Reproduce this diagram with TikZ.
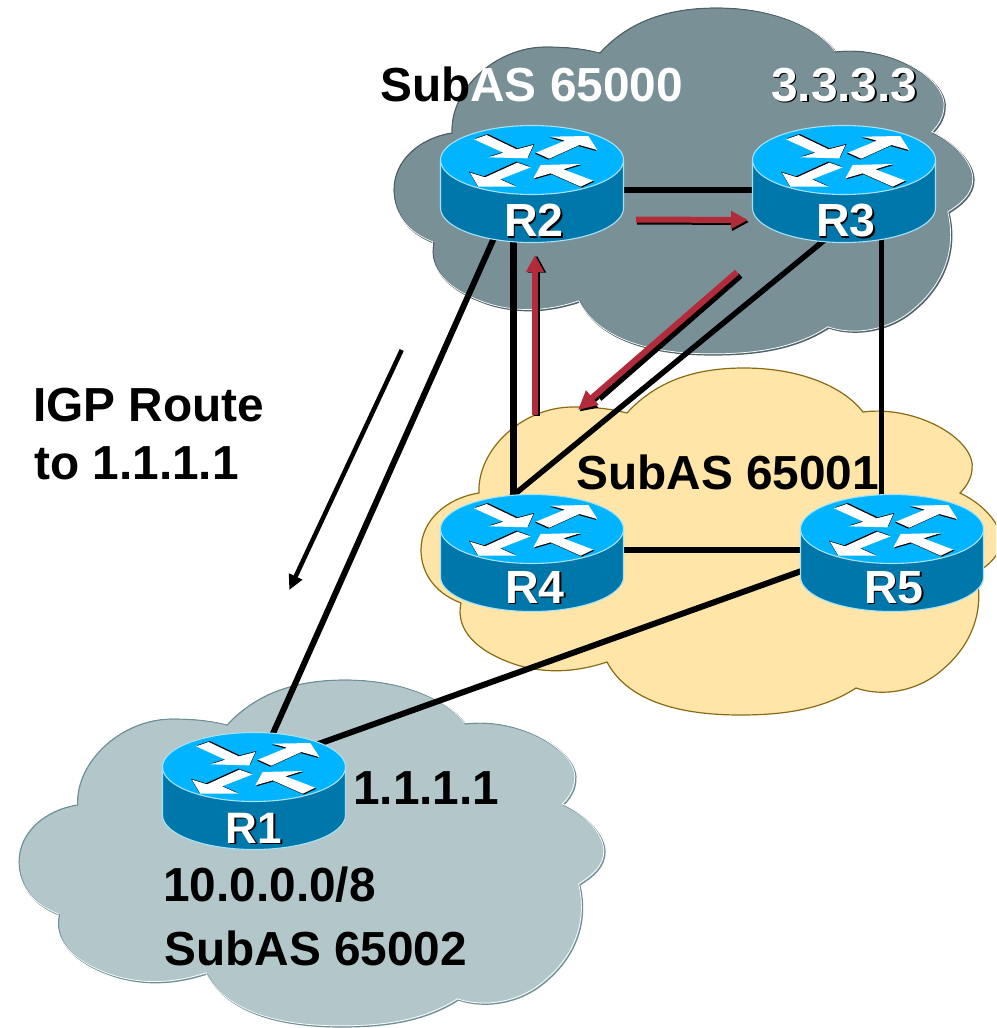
\documentclass[tikz,border=0pt]{standalone}
\usepackage{fontspec}
\setmainfont{Liberation Sans}
\usetikzlibrary{arrows.meta}
\definecolor{cloudgray}{HTML}{7A9097}
\definecolor{cloudgrayedge}{HTML}{4E6166}
\definecolor{cloudyellow}{HTML}{FFE6A8}
\definecolor{cloudyellowedge}{HTML}{8B6A14}
\definecolor{cloudblue}{HTML}{B3C7CA}
\definecolor{cloudblueedge}{HTML}{6E8F96}
\definecolor{routertop}{HTML}{00B4FF}
\definecolor{routerbody}{HTML}{0077AA}
\definecolor{routeredge}{HTML}{A5E2F5}
\definecolor{flowred}{HTML}{B22B3A}
\newcommand{\shadowed}[1]{\makebox[0pt][l]{\hspace{1.6pt}\raisebox{-1.6pt}{\color{black}#1}}{\color{white}#1}}
\tikzset{
  x=1pt,y=-1pt,
  cloudshape/.pic={
    \path[pic actions] (600,53) .. controls (630,20) and (670,8) .. (717,8)
      .. controls (770,8) and (815,25) .. (836,52)
      .. controls (890,45) and (950,80) .. (945,110)
      .. controls (944,120) and (938,128) .. (933,133)
      .. controls (958,145) and (974,165) .. (974,180)
      .. controls (974,195) and (962,205) .. (949,213)
      .. controls (958,250) and (945,285) .. (915,310)
      .. controls (890,332) and (855,337) .. (829,328)
      .. controls (795,350) and (755,355) .. (713,355)
      .. controls (650,355) and (600,340) .. (580,302)
      .. controls (550,312) and (520,314) .. (490,305)
      .. controls (450,292) and (428,270) .. (434,243)
      .. controls (405,232) and (394,210) .. (394,190)
      .. controls (394,160) and (420,138) .. (452,133)
      .. controls (450,90) and (495,47) .. (546,47)
      .. controls (568,47) and (585,49) .. (600,53) -- cycle;
  },
  routerbox/.style={rectangle,minimum width=184pt,minimum height=116pt,inner sep=0pt,draw=none},
  arrowblade/.style={fill=white,draw=none},
  arrowshade/.style={fill=black,draw=none},
  routerart/.pic={
    \path[fill=routerbody,draw=routeredge,line width=1.1pt]
      (-91.5,-24) -- (-91.5,24) arc[start angle=180,end angle=360,x radius=91.5,y radius=-34.5]
      -- (91.5,-24) -- cycle;
    \path[fill=routertop,draw=routeredge,line width=1.1pt] (0,-24) ellipse[x radius=91.5,y radius=34.5];
    \begin{scope}[shift={(0,-24)},x=.3333pt,y=-.3333pt,shift={(-336,-150)}]
      \path[arrowshade,shift={(3,-3)}] (162,88) -- (200,75) -- (290,118) -- (340,105) -- (322,145) -- (205,142) -- (250,128) -- cycle;
      \path[arrowblade] (162,88) -- (200,75) -- (290,118) -- (340,105) -- (322,145) -- (205,142) -- (250,128) -- cycle;
      \path[arrowshade,shift={(-3,3)}] (348,128) -- (435,92) -- (392,80) -- (505,78) -- (532,120) -- (478,105) -- (388,146) -- cycle;
      \path[arrowblade] (348,128) -- (435,92) -- (392,80) -- (505,78) -- (532,120) -- (478,105) -- (388,146) -- cycle;
      \path[arrowshade,shift={(-3,-3)}] (292,158) -- (195,202) -- (150,188) -- (175,230) -- (290,230) -- (240,208) -- (332,172) -- cycle;
      \path[arrowblade] (292,158) -- (195,202) -- (150,188) -- (175,230) -- (290,230) -- (240,208) -- (332,172) -- cycle;
      \path[arrowshade,shift={(3,3)}] (340,205) -- (362,165) -- (482,162) -- (430,178) -- (520,212) -- (482,230) -- (392,190) -- cycle;
      \path[arrowblade] (340,205) -- (362,165) -- (482,162) -- (430,178) -- (520,212) -- (482,230) -- (392,190) -- cycle;
    \end{scope}
  },
  link/.style={draw=black,line width=#1},
  link/.default=6pt,
  flowarrow/.style={draw=flowred,line width=6pt,-{Triangle[length=17pt,width=17pt]}},
  flowshade/.style={draw=black,line width=6pt,-{Triangle[length=17pt,width=17pt]}},
  bigtext/.style={anchor=base west,inner sep=0pt,font=\fontsize{47.8}{47.8}\selectfont\bfseries},
  routerlabel/.style={anchor=base,inner sep=0pt,font=\fontsize{46.5}{46.5}\selectfont\bfseries},
  edgeglint/.style={draw=white,line width=.7pt,fill=none},
}
\begin{document}
\begin{tikzpicture}
\path[clip] (0,0) rectangle (996,1028);
\fill[white] (0,0) rectangle (996,1028);
% clouds
\pic[fill=cloudgray,draw=cloudgrayedge,line width=1.2pt] at (0,0) {cloudshape};
\pic[edgeglint] at (-1.2,-1.2) {cloudshape};
\pic[fill=cloudyellow,draw=cloudyellowedge,line width=1.2pt] at (27,360) {cloudshape};
\pic[fill=cloudblue,draw=cloudblueedge,line width=1.2pt,xscale=1.0103] at (-379,672) {cloudshape};
\pic[edgeglint,xscale=1.0103] at (-380.2,670.8) {cloudshape};
% router anchors
\node[routerbox] (R1) at (254,791) {};
\node[routerbox] (R2) at (532,184) {};
\node[routerbox] (R3) at (844,184) {};
\node[routerbox] (R4) at (532,553) {};
\node[routerbox] (R5) at (892,553) {};
% links
\draw[link=6pt] ([shift={(85,6)}]R2.center) -- ([shift={(-85,6)}]R3.center);
\draw[link=7pt] ([shift={(-19,54)}]R2.center) -- ([shift={(-19,-55)}]R4.center);
\draw[link=6pt] ([shift={(-38,54)}]R2.center) -- ([shift={(15.6,-50)}]R1.center);
\draw[link=5.5pt] ([shift={(-17,54)}]R3.center) -- ([shift={(-22,-55)}]R4.center);
\draw[link=5pt] ([shift={(37,54)}]R3.center) -- ([shift={(-11,-55)}]R5.center);
\draw[link=6pt] ([shift={(85,-3)}]R4.center) -- ([shift={(-85,-3)}]R5.center);
\draw[link=6pt] ([shift={(-85,16)}]R5.center) -- ([shift={(56,-44)}]R1.center);
% flow arrows
\coordinate (f1s) at (636,219.5);
\coordinate (f1e) at (748,220);
\coordinate (f2s) at (535,415);
\coordinate (f2e) at (535,255);
\coordinate (f3s) at (737,272);
\coordinate (f3m) at (596,395);
\coordinate (f3e) at (578,410);
\coordinate (igps) at (401.7,350);
\coordinate (igpe) at (289.3,590);
\draw[flowshade,transform canvas={xshift=1pt,yshift=-2pt}] (f1s) -- (f1e);
\draw[flowarrow] (f1s) -- (f1e);
\draw[flowshade,transform canvas={xshift=2pt,yshift=-.5pt}] (f2s) -- (f2e);
\draw[flowarrow] (f2s) -- (f2e);
\draw[draw=black,line width=6pt,transform canvas={xshift=3.5pt,yshift=-3.5pt}] (f3s) -- (f3m);
\draw[flowshade,transform canvas={xshift=1.5pt,yshift=-1.5pt}] (f3m) -- (f3e);
\draw[flowarrow,-{Triangle[length=19pt,width=18pt]}] (f3s) -- (f3e);
\draw[draw=black,line width=4.5pt,-{Triangle[length=15pt,width=14pt]}] (igps) -- (igpe);
% routers
\pic at (R1.center) {routerart};
\pic at (R2.center) {routerart};
\pic at (R3.center) {routerart};
\pic at (R4.center) {routerart};
\pic at (R5.center) {routerart};
\node[routerlabel,font=\fontsize{44}{44}\selectfont\bfseries] (lR1) at (254,843) {\shadowed{R1}};
\node[routerlabel] (lR2) at (534,236.5) {\shadowed{R2}};
\node[routerlabel] (lR3) at (846,236.5) {\shadowed{R3}};
\node[routerlabel] (lR4) at (535,603) {\shadowed{R4}};
\node[routerlabel] (lR5) at (894,603) {\shadowed{R5}};
% texts
\node[bigtext] (t65000) at (380,101) {{\color{black}Sub}{\color{white}AS 65000}};
\node[bigtext] (t3333) at (771,101) {\shadowed{3.3.3.3}};
\node[bigtext] (t65001) at (576,489) {SubAS 65001};
\node[bigtext] (tigpa) at (33,421) {IGP Route};
\node[bigtext] (tigpb) at (34,479) {to 1.1.1.1};
\node[bigtext] (t1111) at (353,804) {1.1.1.1};
\node[bigtext] (t1000) at (163,901) {10.0.0.0/8};
\node[bigtext] (t65002) at (164,965) {SubAS 65002};
\end{tikzpicture}
\end{document}
